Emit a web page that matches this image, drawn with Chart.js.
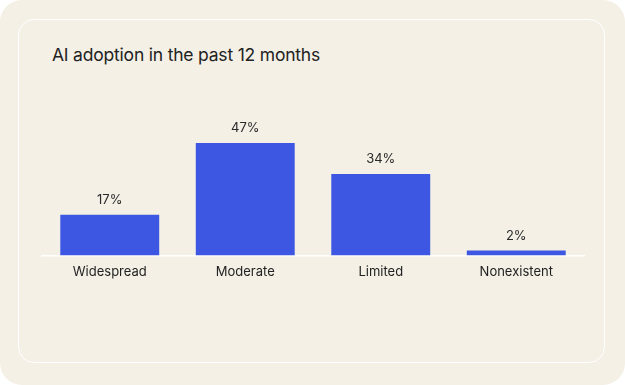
<!DOCTYPE html>
<html><head><meta charset="utf-8">
<script src="https://cdn.jsdelivr.net/npm/chart.js@4"></script>
<style>
html,body{margin:0;padding:0;background:#ffffff;}
#outer{position:absolute;left:0;top:0;width:625px;height:385px;border-radius:22px;background:#f4f0e6;}
#inner{position:absolute;left:18px;top:19px;width:587px;height:344px;box-sizing:border-box;border:1.5px solid #ffffff;border-radius:16px;}
#title{position:absolute;left:52px;top:44px;font-family:Inter,"Liberation Sans",sans-serif;font-size:17.5px;color:#222;letter-spacing:-0.2px;}
canvas{position:absolute;left:0;top:0;}
</style></head>
<body>
<div id="outer"></div><div id="inner"></div>
<div id="title">AI adoption in the past 12 months</div>
<canvas id="c" width="625" height="385"></canvas>
<script>
const categories = ["Widespread", "Moderate", "Limited", "Nonexistent"];
const values = [17, 47, 34, 2];

const labelPlugin = {
  id: 'valLabels',
  afterDatasetsDraw(chart) {
    const ctx = chart.ctx;
    const meta = chart.getDatasetMeta(0);
    ctx.save();
    ctx.font = '13px Inter, "Liberation Sans", sans-serif';
    ctx.fillStyle = '#2a2a2a';
    ctx.textAlign = 'center';
    ctx.textBaseline = 'middle';
    meta.data.forEach((bar, i) => {
      ctx.fillText(values[i] + '%', bar.x, bar.y - 15);
    });
    ctx.restore();
  }
};

new Chart(document.getElementById('c'), {
  type: 'bar',
  data: {
    labels: categories,
    datasets: [{
      data: values,
      backgroundColor: '#3d57e3',
      barPercentage: 0.73,
      categoryPercentage: 1.0,
      borderWidth: 0
    }]
  },
  options: {
    responsive: false,
    animation: false,
    layout: { padding: { left: 42, right: 41, top: 100, bottom: 96 } },
    plugins: { legend: { display: false }, tooltip: { enabled: false } },
    scales: {
      x: {
        grid: { display: false, drawTicks: false },
        border: { display: true, color: '#ffffff', width: 1.5 },
        ticks: { color: '#222', padding: 9, font: { family: 'Inter, "Liberation Sans", sans-serif', size: 13 } }
      },
      y: {
        display: false,
        min: 0,
        max: 65
      }
    }
  },
  plugins: [labelPlugin]
});
</script>
</body></html>
